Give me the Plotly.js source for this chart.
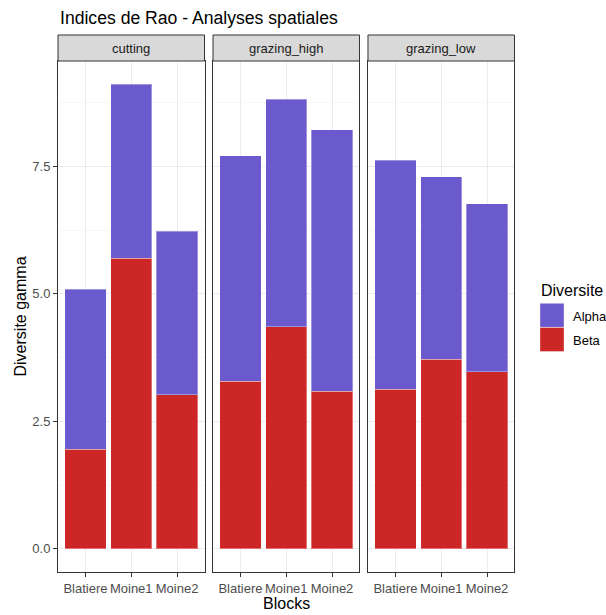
<!DOCTYPE html>
<html>
<head>
<meta charset="utf-8">
<script src="https://cdn.plot.ly/plotly-3.0.1.min.js"></script>
<style>
  html, body { margin: 0; padding: 0; background: #ffffff; }
  #plot { width: 606px; height: 615px; }
</style>
</head>
<body>
<div id="plot"></div>
<script>
// values
const blocks = ["Blatiere", "Moine1", "Moine2"]
const treatments = ["cutting", "grazing_high", "grazing_low"]

const betaCutting = [1.95, 5.70, 3.02]
const alphaCutting = [3.14, 3.41, 3.21]
const betaGrazingHigh = [3.29, 4.35, 3.09]
const alphaGrazingHigh = [4.42, 4.47, 5.13]
const betaGrazingLow = [3.13, 3.72, 3.47]
const alphaGrazingLow = [4.49, 3.58, 3.30]

const yTicks = [0, 2.5, 5, 7.5]
const seriesNames = ["Alpha", "Beta"]

const alphaColor = "#6A5ACD"
const betaColor = "#CD2626"
const font = "Liberation Sans, Arial, sans-serif"

const betaByPanel = [betaCutting, betaGrazingHigh, betaGrazingLow]
const alphaByPanel = [alphaCutting, alphaGrazingHigh, alphaGrazingLow]

const barLine = { color: "rgba(255,255,255,0.35)", width: 1 }

const traces = []
treatments.forEach((t, i) => {
  const sfx = i === 0 ? "" : String(i + 1)
  traces.push({
    type: "bar", name: "Beta", x: blocks, y: betaByPanel[i],
    xaxis: "x" + sfx, yaxis: "y" + sfx,
    marker: { color: betaColor, line: barLine }, showlegend: false
  })
  traces.push({
    type: "bar", name: "Alpha", x: blocks, y: alphaByPanel[i],
    xaxis: "x" + sfx, yaxis: "y" + sfx,
    marker: { color: alphaColor, line: barLine }, showlegend: false
  })
})

// plot area: 58..515 px wide, 61..572 px tall
const W = 457, H = 511
const px = (v) => (v - 58) / W
const py = (v) => (572 - v) / H

const domains = [[0, 0.3206], [0.3392, 0.6597], [0.6783, 0.9989]]

const layout = {
  width: 606,
  height: 615,
  margin: { l: 58, r: 91, t: 61, b: 43, pad: 0 },
  paper_bgcolor: "#ffffff",
  plot_bgcolor: "#ffffff",
  barmode: "stack",
  bargap: 0.1,
  font: { family: font, size: 13, color: "#4d4d4d" },
  shapes: [],
  annotations: [
    {
      text: "Indices de Rao - Analyses spatiales",
      xref: "paper", yref: "paper", x: 0, y: py(18),
      xanchor: "left", yanchor: "middle", showarrow: false,
      font: { family: font, size: 17.6, color: "#000000" }
    },
    {
      text: "Blocks",
      xref: "paper", yref: "paper", x: 0.5, y: py(603),
      xanchor: "center", yanchor: "middle", showarrow: false,
      font: { family: font, size: 16, color: "#000000" }
    },
    {
      text: "Diversite gamma",
      xref: "paper", yref: "paper", x: px(20), y: 0.5, textangle: -90,
      xanchor: "center", yanchor: "middle", showarrow: false,
      font: { family: font, size: 16, color: "#000000" }
    },
    {
      text: "Diversite",
      xref: "paper", yref: "paper", x: px(539), y: py(290),
      xanchor: "left", yanchor: "middle", showarrow: false,
      font: { family: font, size: 16, color: "#000000" }
    }
  ]
}

treatments.forEach((t, i) => {
  const sfx = i === 0 ? "" : String(i + 1)
  layout["xaxis" + sfx] = {
    domain: domains[i],
    anchor: "y" + sfx,
    type: "category",
    range: [-0.6, 2.6],
    showgrid: true, gridcolor: "#ebebeb", gridwidth: 1,
    showline: true, mirror: true, linecolor: "#333333", linewidth: 1,
    ticks: "outside", ticklen: 4, tickcolor: "#333333",
    tickfont: { family: font, size: 13, color: "#4d4d4d" },
    fixedrange: true
  }
  layout["yaxis" + sfx] = {
    anchor: "x" + sfx,
    range: [-0.4555, 9.5655],
    tickvals: yTicks,
    tickformat: ".1f",
    showgrid: true, gridcolor: "#ebebeb", gridwidth: 1,
    minor: { dtick: 1.25, tick0: 1.25, showgrid: true, gridcolor: "#f2f2f2", gridwidth: 0.6, ticks: "" },
    zeroline: false,
    showline: true, mirror: true, linecolor: "#333333", linewidth: 1,
    ticks: i === 0 ? "outside" : "", ticklen: 4, tickcolor: "#333333",
    showticklabels: i === 0,
    tickfont: { family: font, size: 13, color: "#4d4d4d" },
    fixedrange: true
  }
  if (i > 0) layout["yaxis" + sfx].matches = "y"

  // facet strip
  layout.shapes.push({
    type: "rect", xref: "x" + sfx + " domain", yref: "paper",
    x0: 0, x1: 1, y0: 1, y1: py(35),
    fillcolor: "#d9d9d9", line: { color: "#333333", width: 1 }, layer: "above"
  })
  layout.annotations.push({
    text: t, xref: "x" + sfx + " domain", yref: "paper",
    x: 0.5, y: py(48), xanchor: "center", yanchor: "middle", showarrow: false,
    font: { family: font, size: 13, color: "#1a1a1a" }
  })
})

// legend drawn by hand to get ggplot-sized keys
const keyColors = [alphaColor, betaColor]
const keyTops = [303.3, 327.5]
seriesNames.forEach((name, k) => {
  layout.shapes.push({
    type: "rect", xref: "paper", yref: "paper",
    x0: px(540), x1: px(564), y0: py(keyTops[k] + 24), y1: py(keyTops[k]),
    fillcolor: keyColors[k], line: { color: "rgba(255,255,255,0.35)", width: 1 }
  })
  layout.annotations.push({
    text: name, xref: "paper", yref: "paper",
    x: px(571), y: py(keyTops[k] + 13), xanchor: "left", yanchor: "middle",
    showarrow: false, font: { family: font, size: 13, color: "#000000" }
  })
})

Plotly.newPlot("plot", traces, layout, { displayModeBar: false, staticPlot: true })
</script>
</body>
</html>
